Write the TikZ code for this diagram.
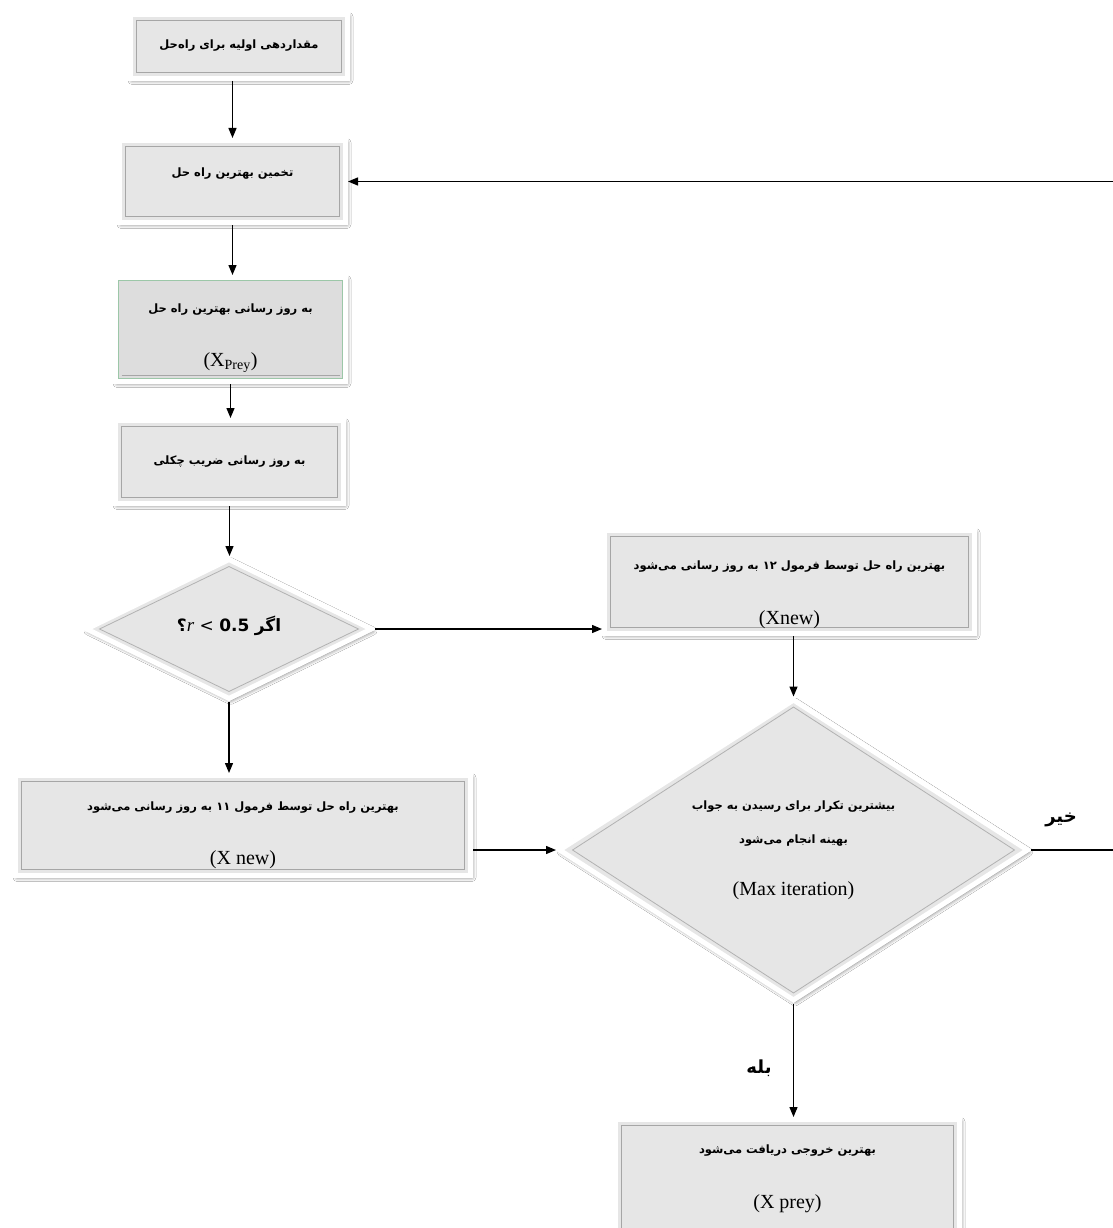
\documentclass[tikz,border=0pt]{standalone}
\usepackage{fontspec}
\setmainfont{Liberation Serif}
\newfontfamily\fafont[Script=Arabic]{DejaVu Sans}
\newfontfamily\dvsans{DejaVu Sans}
\TeXXeTstate=1
\usetikzlibrary{arrows.meta,shapes.geometric,shadows.blur,calc}
\definecolor{boxgray}{HTML}{E6E6E6}
\definecolor{boxgraydark}{HTML}{DDDDDD}
\definecolor{greenedge}{HTML}{9CC7A8}
\newcommand\fatx[1]{{\fafont\bfseries\fontsize{11.5}{13}\selectfont\beginR #1\endR}}
\newcommand\latx[1]{{\fontsize{20}{22}\selectfont #1}}
\newcommand\upby[1]{\rule[-#1]{0pt}{0pt}}
\newcommand\downby[1]{\rule{0pt}{#1}}
\tikzset{
  bevelrect/.style={path picture={
    \draw[black!35, line width=0.8pt]
      ([shift={(6pt,6pt)}]path picture bounding box.south west) rectangle
      ([shift={(-6pt,-6pt)}]path picture bounding box.north east);}},
  greenrect/.style={path picture={
    \draw[greenedge, line width=0.8pt]
      ([shift={(3pt,3pt)}]path picture bounding box.south west) rectangle
      ([shift={(-3pt,-3pt)}]path picture bounding box.north east);
    \draw[black!35, line width=0.8pt]
      ([shift={(6pt,6pt)}]path picture bounding box.south west) --
      ([shift={(-6pt,6pt)}]path picture bounding box.south east);}},
  beveldia/.style={path picture={
    \draw[black!30, line width=0.8pt]
      ([xshift=13pt]path picture bounding box.west) --
      ([yshift=-7pt]path picture bounding box.north) --
      ([xshift=-13pt]path picture bounding box.east) --
      ([yshift=7pt]path picture bounding box.south) -- cycle;}},
  shapeframe/.style={draw=white, line width=5pt, fill=boxgray,
    blur shadow={shadow xshift=1.5pt, shadow yshift=-2pt, shadow blur radius=4pt, shadow opacity=60}},
  procbox/.style={shapeframe, bevelrect, rectangle, inner sep=0pt, align=center, font=\fontsize{10}{12}\selectfont},
  decide/.style={shapeframe, beveldia, diamond, inner sep=0pt, align=center, font=\fontsize{10}{12}\selectfont},
  conn/.style={line width=1.3pt, -{Triangle[length=10pt,width=8pt]}},
  answer/.style={font=\fafont\bfseries\fontsize{18}{20}\selectfont, inner sep=0pt}
}
\begin{document}
\begin{tikzpicture}[x=1pt,y=-1pt]
\useasboundingbox[fill=white] (0,0) rectangle (1112,1228);

\node[procbox, minimum width=217pt, minimum height=64pt] (b1) at (239,46.5)
  {\fatx{مقداردهی اولیه برای راه‌حل}\upby{4pt}};
\node[procbox, minimum width=226pt, minimum height=82pt] (b2) at (232.5,181.5)
  {\fatx{تخمین بهترین راه حل}\upby{18pt}};
\node[procbox, greenrect, fill=boxgraydark, minimum width=230pt, minimum height=104pt] (b3) at (230.5,329.5)
  {\downby{26pt}\fatx{به روز رسانی بهترین راه حل}\\[36pt]\latx{(X\textsubscript{Prey})}};
\node[procbox, minimum width=228pt, minimum height=83pt] (b4) at (229.5,462)
  {\fatx{به روز رسانی ضریب چکلی}\upby{4pt}};
\node[decide, minimum width=287pt, minimum height=141pt] (d1) at (229,629)
  {{\fafont\bfseries\fontsize{17}{19}\selectfont ؟}\textit{\fontsize{19}{21}\selectfont r}{\dvsans\fontsize{17}{19}\selectfont{} < \textbf{0.5} }\fatx{\fontsize{17}{19}\selectfont اگر}\upby{10pt}};
\node[procbox, minimum width=370pt, minimum height=103pt] (b5) at (789.5,582)
  {\downby{34pt}\fatx{بهترین راه حل توسط فرمول ۱۲ به روز رسانی می‌شود}\\[37pt]\latx{(Xnew)}};
\node[procbox, minimum width=455pt, minimum height=100pt] (b6) at (243,825.5)
  {\downby{28pt}\fatx{بهترین راه حل توسط فرمول ۱۱ به روز رسانی می‌شود}\\[37pt]\latx{(X new)}};
\node[decide, minimum width=470pt, minimum height=286pt] (d2) at (793.5,850)
  {\fatx{بیشترین تکرار برای رسیدن به جواب}\\[22pt]\fatx{بهینه انجام می‌شود}\\[34pt]\latx{(Max iteration)}};
\node[procbox, minimum width=344pt, minimum height=118pt] (b7) at (787.5,1178.5)
  {\fatx{بهترین خروجی دریافت می‌شود}\\[37pt]\latx{(X prey)}};

\node[answer] (no) at (1061,820) {\beginR خیر\endR};
\node[answer] (yes) at (759,1068) {\beginR بله\endR};

\coordinate (loopx) at (1114,0);

\draw[conn] (b2.north |- b1.south) -- (b2.north);
\draw[conn] (b2.south) -- (b2.south |- b3.north);
\draw[conn] (b3.south) -- (b3.south |- b4.north);
\draw[conn] (b4.south) -- (b4.south |- d1.north);
\draw[conn] (d1.east) -- (d1.east -| b5.west);
\draw[conn] (d1.south) -- (d1.south |- b6.north);
\draw[conn] (b5.south -| d2.north) -- (d2.north);
\draw[conn] (d2.west -| b6.east) -- (d2.west);
\draw[conn] (d2.south) -- (d2.south |- b7.north);
\draw[conn] (d2.east) -- (d2.east -| loopx) -- (b2.east -| loopx) -- (b2.east);
\end{tikzpicture}
\end{document}
